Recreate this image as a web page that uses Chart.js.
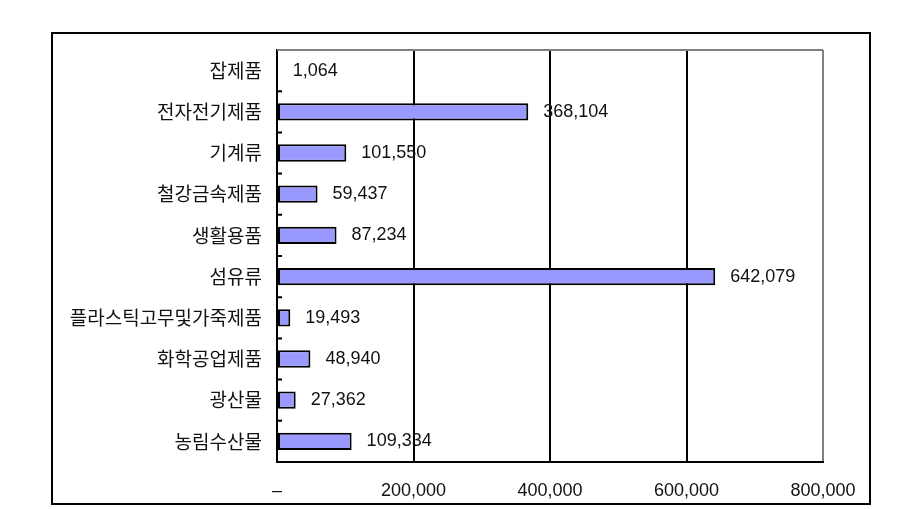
<!DOCTYPE html>
<html>
<head>
<meta charset="utf-8">
<script src="https://cdn.jsdelivr.net/npm/chart.js@4"></script>
<style>
  html, body { margin: 0; padding: 0; background: #fff; }
  #wrap { width: 899px; height: 509px; }
</style>
</head>
<body>
<div id="wrap"><canvas id="exportChart"></canvas></div>
<script>
// categories, top to bottom
const categories = ['잡제품', '전자전기제품', '기계류', '철강금속제품', '생활용품', '섬유류',
  '플라스틱고무및가죽제품', '화학공업제품', '광산물', '농림수산물'];
const values = [1064, 368104, 101550, 59437, 87234, 642079, 19493, 48940, 27362, 109334];
const xTicks = [0, 200000, 400000, 600000, 800000];

const numFont = '"Liberation Sans", "DejaVu Sans", sans-serif';
const krFont = '"Noto Sans CJK KR", sans-serif';

function fmt(v) {
  return v === 0 ? '–' : v.toLocaleString('en-US');
}

// outer frame, plot border, inward category ticks, value labels
const framePlugin = {
  id: 'frame',
  beforeDraw(chart) {
    const ctx = chart.ctx;
    ctx.save();
    ctx.fillStyle = '#fff';
    ctx.fillRect(0, 0, chart.width, chart.height);
    ctx.strokeStyle = '#000';
    ctx.lineWidth = 2;
    ctx.strokeRect(52, 33, 818, 471);
    ctx.restore();
  },
  afterDatasetsDraw(chart) {
    const ctx = chart.ctx;
    const area = chart.chartArea;
    const y = chart.scales.y;
    ctx.save();
    // gray top border
    ctx.strokeStyle = '#808080';
    ctx.lineWidth = 2;
    ctx.beginPath();
    ctx.moveTo(area.left, area.top);
    ctx.lineTo(area.right, area.top);
    ctx.stroke();
    // inward ticks at category boundaries
    ctx.strokeStyle = '#000';
    ctx.beginPath();
    const step = (area.bottom - area.top) / categories.length;
    for (let i = 1; i < categories.length; i++) {
      const yy = y.getPixelForValue(i) - step / 2;
      ctx.moveTo(area.left, yy);
      ctx.lineTo(area.left + 5, yy);
    }
    ctx.stroke();
    // value labels
    ctx.fillStyle = '#111';
    ctx.font = '18px ' + numFont;
    ctx.textBaseline = 'middle';
    ctx.textAlign = 'left';
    chart.getDatasetMeta(0).data.forEach((bar, i) => {
      ctx.fillText(fmt(values[i]), bar.x + 15, bar.y);
    });
    ctx.restore();
  }
};

new Chart(document.getElementById('exportChart').getContext('2d'), {
  type: 'bar',
  data: {
    labels: categories,
    datasets: [
      {
        data: values,
        backgroundColor: '#9999ff',
        borderColor: '#000',
        borderWidth: 2,
        borderSkipped: false,
        categoryPercentage: 1,
        barPercentage: 0.42
      }
    ]
  },
  options: {
    indexAxis: 'y',
    responsive: true,
    maintainAspectRatio: false,
    animation: false,
    layout: { padding: { top: 50, right: 76, left: 0, bottom: 0 } },
    plugins: {
      legend: { display: false },
      tooltip: { enabled: false }
    },
    scales: {
      x: {
        min: 0,
        max: 800000,
        afterBuildTicks(scale) {
          scale.ticks = xTicks.map(v => ({ value: v }));
        },
        afterFit(scale) { scale.height = 47; },
        ticks: {
          color: '#111',
          font: { size: 18, family: numFont },
          padding: 18,
          maxRotation: 0,
          callback: v => fmt(v)
        },
        grid: {
          drawTicks: false,
          lineWidth: 2,
          color: ctx => (ctx.tick && ctx.tick.value === 800000 ? '#808080' : '#000')
        },
        border: { display: true, color: '#000', width: 2 }
      },
      y: {
        afterFit(scale) { scale.width = 277; },
        ticks: {
          color: '#111',
          font: { size: 19, family: krFont },
          padding: 7
        },
        grid: { display: false },
        border: { display: true, color: '#000', width: 2 }
      }
    }
  },
  plugins: [framePlugin]
});
</script>
</body>
</html>
